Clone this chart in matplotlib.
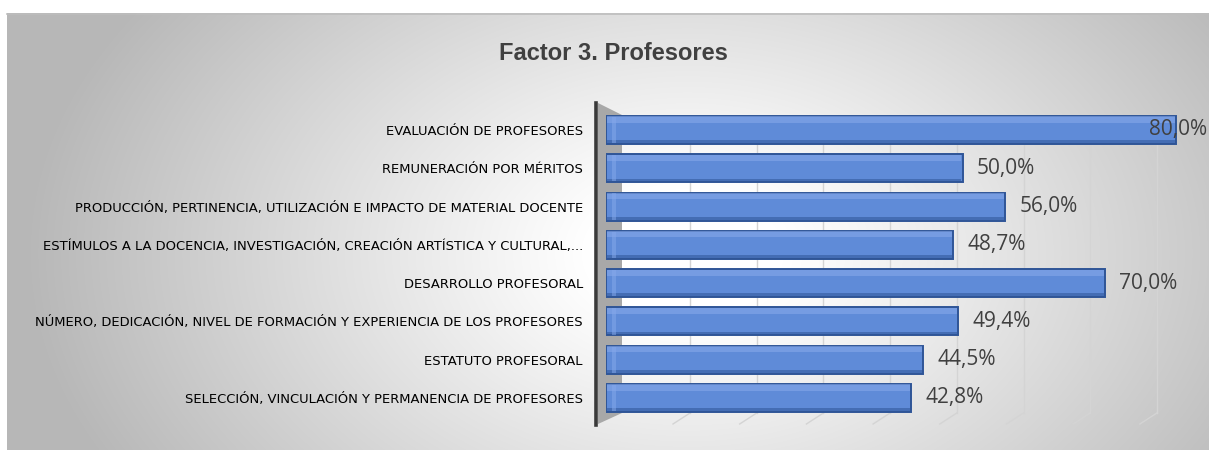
import matplotlib
matplotlib.use("Agg")
import matplotlib.pyplot as plt
import numpy as np
from matplotlib.patches import Polygon

categories = [
    "SELECCIÓN, VINCULACIÓN Y PERMANENCIA DE PROFESORES",
    "ESTATUTO PROFESORAL",
    "NÚMERO, DEDICACIÓN, NIVEL DE FORMACIÓN Y EXPERIENCIA DE LOS PROFESORES",
    "DESARROLLO PROFESORAL",
    "ESTÍMULOS A LA DOCENCIA, INVESTIGACIÓN, CREACIÓN ARTÍSTICA Y CULTURAL,...",
    "PRODUCCIÓN, PERTINENCIA, UTILIZACIÓN E IMPACTO DE MATERIAL DOCENTE",
    "REMUNERACIÓN POR MÉRITOS",
    "EVALUACIÓN DE PROFESORES",
]
values = [0.428, 0.445, 0.494, 0.70, 0.487, 0.56, 0.50, 0.80]
value_labels = ["42,8%", "44,5%", "49,4%", "70,0%", "48,7%", "56,0%", "50,0%", "80,0%"]
grid_steps = [0.1, 0.2, 0.3, 0.4, 0.5, 0.6, 0.7, 0.8]
title = "Factor 3. Profesores"

W, H = 1209, 450
fig = plt.figure(figsize=(W / 100, H / 100), dpi=100)
fig.patch.set_facecolor("white")

# background with radial gradient
bg = fig.add_axes([7 / W, 0, 1 - 7 / W, 1 - 13 / H])
bg.set_axis_off()
yy, xx = np.mgrid[0:437, 0:1202]
cx, cy = 680, 240
d = np.sqrt(((xx - cx) / 640.0) ** 2 + ((yy - cy) / 430.0) ** 2)
v = np.clip(1.0 - 0.32 * np.clip(d - 0.15, 0, None) ** 1.05, 0.72, 1.0)
img = np.dstack([v, v, v])
bg.imshow(img, aspect="auto", extent=[0, 1, 0, 1], origin="upper")
bg.set_xlim(0, 1)
bg.set_ylim(0, 1)
fig.add_artist(plt.Line2D([7 / W, 1], [1 - 13.5 / H, 1 - 13.5 / H], color="#bdbdbd", lw=1.2))

sans = ["Liberation Sans", "DejaVu Sans"]

fig.text(613 / W, 1 - 53 / H, title, ha="center", va="center", fontsize=17,
         fontweight="bold", color="#404040", family=sans)

# axes geometry (pixels)
ax_l, ax_r, ax_t, ax_b = 606, 1207, 103, 425
ppx = 713.0  # pixels per unit of x
ax = fig.add_axes([ax_l / W, 1 - ax_b / H, (ax_r - ax_l) / W, (ax_b - ax_t) / H])
ax.patch.set_alpha(0)
y = np.arange(len(categories))
ppu = (398 - 130) / 7.0
top_val = 7 + (130 - ax_t) / ppu
bot_val = 0 - (ax_b - 398) / ppu
ax.set_ylim(bot_val, top_val)
ax.set_xlim(0, (ax_r - ax_l) / ppx)


def px2data(px, py):
    return (px - ax_l) / ppx, 7 - (py - 130) / ppu


# side wall of 3D
wall = [px2data(598, 103), px2data(622, 115), px2data(622, 413), px2data(598, 424)]
ax.add_patch(Polygon(wall, closed=True, facecolor="#a8a8a8", edgecolor="none",
                     zorder=0.5, clip_on=False))

# back-wall gridlines + floor diagonals
g_top = px2data(0, 116)[1]
g_bot = px2data(0, 413)[1]
f_bot = px2data(0, 424)[1]
for t in grid_steps:
    gx = (17.3 + t * 667) / ppx
    ax.plot([gx, gx], [g_bot, g_top], color="#d4d4d4", lw=1.0, zorder=1)
    ax.plot([gx, gx - 17 / ppx], [g_bot, f_bot], color="#d4d4d4", lw=1.0, zorder=1,
            clip_on=False)
ax.set_xticks([])

bh = 0.73
ax.barh(y, values, height=bh, color="#5f8bd8", edgecolor="#2f5597", lw=1.4, zorder=3)
# 3D look: lighter top face, darker bottom depth
ax.barh(y + bh / 2 - 0.09, [v_ - 0.003 for v_ in values], height=0.16, left=0.0015,
        color="#86a9ea", edgecolor="none", alpha=0.6, zorder=4)
ax.barh(y - bh / 2 + 0.05, [v_ - 0.003 for v_ in values], height=0.09, left=0.0015,
        color="#2f5597", edgecolor="none", alpha=0.55, zorder=4)
ax.barh(y, [0.006] * len(values), height=bh - 0.04, left=0.008, color="#86a9ea",
        edgecolor="none", alpha=0.5, zorder=4)

for yi, val, lab in zip(y, values, value_labels):
    xpos = val + 0.02 if val < 0.78 else val - 0.038
    ax.text(xpos, yi, lab, ha="left", va="center", fontsize=15,
            color="#404040", family=["Open Sans", "DejaVu Sans"], zorder=5, clip_on=False)

ax.set_yticks(y)
ax.set_yticklabels(categories, fontsize=10, color="#404040", family=sans)
ax.tick_params(axis="y", length=0, pad=9.4)
for s in ["top", "right", "bottom"]:
    ax.spines[s].set_visible(False)
ax.spines["left"].set_position(("outward", 7.2))
ax.spines["left"].set_color("#3a3a3a")
ax.spines["left"].set_linewidth(2.6)

# fit tick label font size so the longest label spans ~550 px like the reference
fig.canvas.draw()
r = fig.canvas.get_renderer()
wmax = max(t.get_window_extent(r).width for t in ax.get_yticklabels())
fs = 10 * 550.0 / wmax
for t in ax.get_yticklabels():
    t.set_fontsize(fs)

fig.savefig("out.png", dpi=100, facecolor=fig.get_facecolor())
